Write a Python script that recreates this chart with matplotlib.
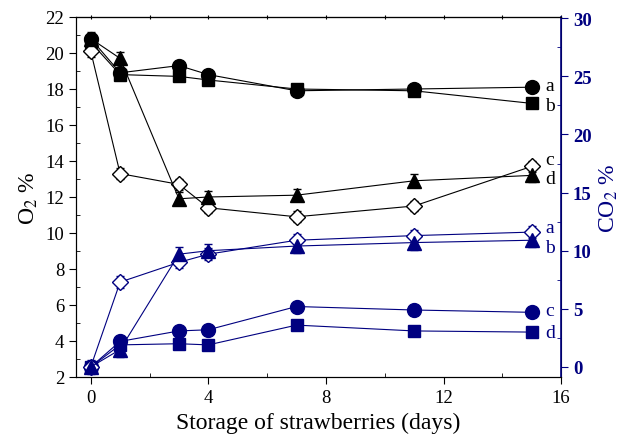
import numpy as np
import matplotlib
matplotlib.use('Agg')
import matplotlib.pyplot as plt
from matplotlib.ticker import MultipleLocator, NullFormatter

plt.rcParams['font.family'] = ['Liberation Serif', 'DejaVu Serif']
plt.rcParams['mathtext.fontset'] = 'stix'

days = [0, 1, 3, 4, 7, 11, 15]

# O2 (left axis)
o2_a = [20.8, 18.9, 19.3, 18.8, 17.9, 18.0, 18.1]
o2_b = [20.6, 18.8, 18.7, 18.5, 18.0, 17.9, 17.2]
o2_c = [20.1, 13.3, 12.7, 11.4, 10.9, 11.5, 13.7]
o2_d = [20.8, 19.7, 11.9, 12.0, 12.1, 12.9, 13.2]

# CO2 (right axis)
co2_a = [0.0, 7.3, 9.0, 9.7, 10.9, 11.3, 11.6]
co2_b = [0.0, 1.5, 9.7, 10.0, 10.4, 10.7, 10.9]
co2_c = [0.0, 2.2, 3.1, 3.2, 5.2, 4.9, 4.7]
co2_d = [0.0, 1.9, 2.0, 1.9, 3.6, 3.1, 3.0]

o2_labels = ['a', 'b', 'c', 'd']
o2_label_y = [18.2, 17.1, 14.1, 13.0]
co2_labels = ['a', 'b', 'c', 'd']
co2_label_y = [12.0, 10.3, 4.9, 3.0]

navy = '#000080'

fig = plt.figure(figsize=(6.2, 4.39), dpi=100)
ax = fig.add_axes([0.1226, 0.139, 0.7824, 0.82])

ms = 10
ax.plot(days, o2_a, '-o', color='black', ms=ms, lw=0.8, zorder=3)
ax.plot(days, o2_b, '-s', color='black', ms=ms - 1, lw=0.8, zorder=3)
ax.errorbar(days, o2_c, yerr=0.3, fmt='-D', color='black', mfc='white', ms=ms - 1.5,
            lw=0.8, elinewidth=0.8, capsize=3, zorder=3)
ax.errorbar(days, o2_d, yerr=0.35, fmt='-^', color='black', ms=ms, lw=0.8,
            elinewidth=0.8, capsize=3, zorder=3)

ax.set_xlim(-0.5, 16)
ax.set_ylim(2, 22)
ax.xaxis.set_major_locator(MultipleLocator(4))
ax.xaxis.set_minor_locator(MultipleLocator(2))
ax.yaxis.set_major_locator(MultipleLocator(2))
ax.yaxis.set_minor_locator(MultipleLocator(1))
ax.tick_params(which='major', direction='out', length=5, labelsize=13.5, top=False)
ax.tick_params(which='minor', direction='in', length=3, top=False)
ax.set_xlabel('Storage of strawberries (days)', fontsize=17)
ax.set_ylabel('O$_2$ %', fontsize=17)

top = ax.secondary_xaxis('top')
top.xaxis.set_major_locator(MultipleLocator(2))
top.xaxis.set_major_formatter(NullFormatter())
top.tick_params(direction='inout', length=3)

for lab, y in zip(o2_labels, o2_label_y):
    ax.text(15.45, y, lab, fontsize=14, color='black', va='center')

ax2 = ax.twinx()
ax2.plot(days, co2_c, '-o', color=navy, ms=ms, lw=0.8, zorder=3)
ax2.plot(days, co2_d, '-s', color=navy, ms=ms - 1, lw=0.8, zorder=3)
ax2.errorbar(days, co2_a, yerr=0.5, fmt='-D', color=navy, mfc='white', ms=ms - 1.5,
             lw=0.8, elinewidth=0.8, capsize=3, zorder=3)
ax2.errorbar(days, co2_b, yerr=0.6, fmt='-^', color=navy, ms=ms, lw=0.8,
             elinewidth=0.8, capsize=3, zorder=3)
ax2.set_ylim(-0.86, 30.1)
ax2.yaxis.set_major_locator(MultipleLocator(5))
ax2.yaxis.set_minor_locator(MultipleLocator(2.5))
ax2.tick_params(axis='y', which='major', colors=navy, direction='out', length=5,
                labelsize=13.5)
ax2.tick_params(axis='y', which='minor', colors=navy, direction='in', length=3)
ax2.spines['right'].set_color(navy)
ax2.spines['right'].set_linewidth(1.2)
for t in ax2.get_yticklabels():
    t.set_fontweight('bold')
ax2.set_ylabel('CO$_2$ %', fontsize=17, color=navy)

for lab, y in zip(co2_labels, co2_label_y):
    ax2.text(15.45, y, lab, fontsize=14, color=navy, va='center')

fig.savefig('out.png', dpi=100)
